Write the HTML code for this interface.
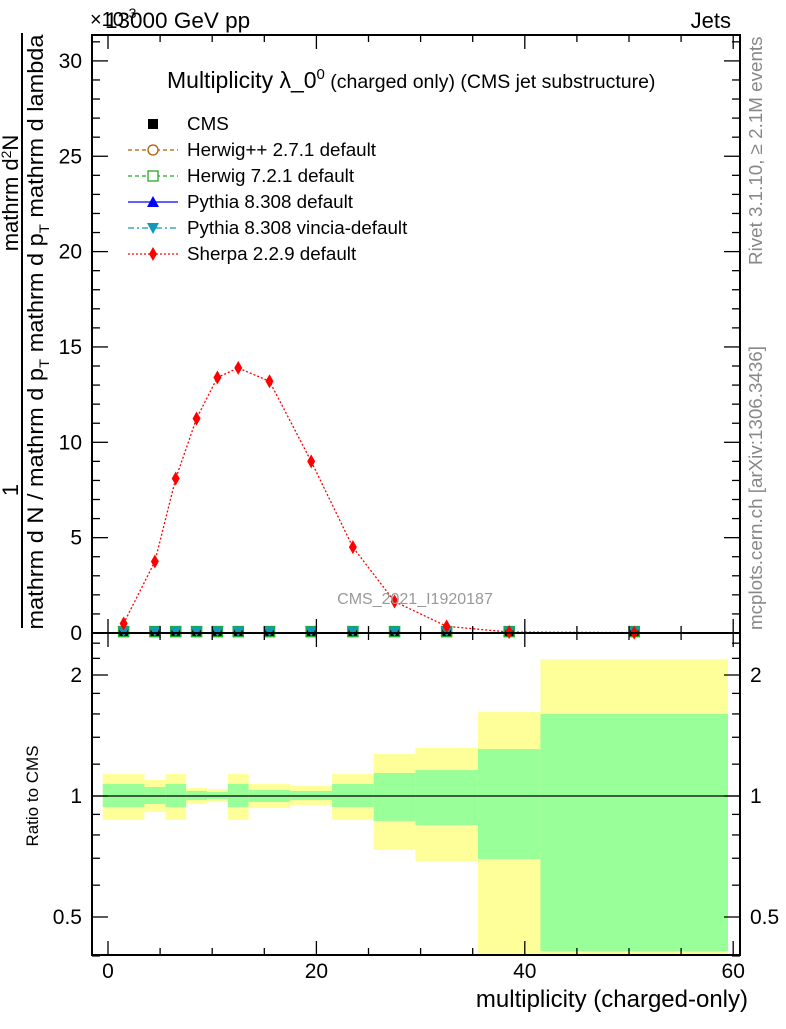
<!DOCTYPE html>
<html><head><meta charset="utf-8"><style>
body{margin:0;background:#fff}
svg{font-family:"Liberation Sans",sans-serif}
</style></head><body>
<svg id="c" width="786" height="1024" xmlns="http://www.w3.org/2000/svg">
<g id="bands"></g><g id="main"></g><g id="axes"></g>
<text x="105" y="28" font-size="22.5">13000 GeV pp</text>
<text x="90" y="26" font-size="20">×10<tspan font-size="14" dy="-8">-3</tspan></text>
<text x="731" y="28" font-size="22" text-anchor="end">Jets</text>
<text x="167" y="88" font-size="23">Multiplicity λ_0<tspan font-size="15" dy="-9">0</tspan><tspan font-size="19.5" dy="9"> (charged only) (CMS jet substructure)</tspan></text>
<text x="415" y="604" font-size="16" fill="#999" text-anchor="middle">CMS_2021_I1920187</text>
<text transform="translate(762,265) rotate(-90)" font-size="18.8" fill="#888">Rivet 3.1.10, ≥ 2.1M events</text>
<text transform="translate(762,630) rotate(-90)" font-size="18.8" fill="#888">mcplots.cern.ch [arXiv:1306.3436]</text>
<g>
<line x1="22" y1="33" x2="22" y2="628" stroke="#000" stroke-width="2"/>
<text transform="translate(18,490) rotate(-90)" font-size="22" text-anchor="middle">1</text>
<text transform="translate(18,193) rotate(-90)" font-size="22" text-anchor="middle">mathrm d<tspan font-size="14" dy="-7">2</tspan><tspan dy="7">N</tspan></text>
<text transform="translate(43,332) rotate(-90)" font-size="22" text-anchor="middle" textLength="595" lengthAdjust="spacingAndGlyphs">mathrm d N / mathrm d p<tspan font-size="14" dy="6">T</tspan><tspan dy="-6"> mathrm d p</tspan><tspan font-size="14" dy="6">T</tspan><tspan dy="-6"> mathrm d lambda</tspan></text>
</g>
<text transform="translate(38,796) rotate(-90)" font-size="17" text-anchor="middle">Ratio to CMS</text>
<text x="748" y="1007" font-size="24" text-anchor="end">multiplicity (charged-only)</text>
<g id="legend"></g>
</svg>
<script>
const edges=[-0.5,3.5,5.5,7.5,9.5,11.5,13.5,17.5,21.5,25.5,29.5,35.5,41.5,59.5];
const centers=[1.5,4.5,6.5,8.5,10.5,12.5,15.5,19.5,23.5,27.5,32.5,38.5,50.5];
const cmsVals=[0.02,0.02,0.02,0.02,0.02,0.02,0.02,0.02,0.02,0.02,0.02,0.02,0.02];
const sherpaVals=[0.5,3.75,8.1,11.25,13.4,13.9,13.2,9.0,4.5,1.65,0.35,0.05,0.02];
const yelHi=[1.134,1.096,1.134,1.047,1.041,1.134,1.071,1.059,1.134,1.272,1.317,1.618,2.19];
const grnHi=[1.071,1.053,1.071,1.029,1.023,1.071,1.035,1.029,1.071,1.141,1.160,1.309,1.60];
const grnLo=[0.939,0.955,0.939,0.977,0.983,0.939,0.966,0.977,0.939,0.867,0.847,0.697,0.411];
const yelLo=[0.872,0.912,0.872,0.955,0.966,0.872,0.933,0.950,0.872,0.734,0.689,0.30,0.39];
const xTicks=[0,20,40,60];
const yTicks=[0,5,10,15,20,25,30];
const rTicks=[0.5,1,2];

const NS="http://www.w3.org/2000/svg";
const X=v=>108+v*10.42;
const Y=v=>633-v*19.07;
const R=r=>796-Math.log2(r)*121;
const L=92,Rt=740,T=35,B=633,RB=955;
function mk(tag,attrs,parent){const e=document.createElementNS(NS,tag);for(const k in attrs)e.setAttribute(k,attrs[k]);(parent||document.getElementById('main')).appendChild(e);return e;}
const bands=document.getElementById('bands'),axes=document.getElementById('axes'),main=document.getElementById('main');
const clipY=v=>Math.min(RB,Math.max(B,v));
for(let i=0;i<centers.length;i++){
 const x1=X(edges[i]),x2=X(edges[i+1]);
 let e=mk('rect',{x:x1,y:clipY(R(yelHi[i])),width:x2-x1,height:clipY(R(yelLo[i]))-clipY(R(yelHi[i])),fill:'#ffff99'},bands);
 
 
 e=mk('rect',{x:x1,y:clipY(R(grnHi[i])),width:x2-x1,height:clipY(R(grnLo[i]))-clipY(R(grnHi[i])),fill:'#99ff99'},bands);
 
 
}
let rl=mk('line',{x1:L,x2:Rt,y1:R(1),y2:R(1),stroke:'#000','stroke-width':1.3},bands);


let sp=mk('polyline',{points:centers.map((c,i)=>X(c)+','+Y(sherpaVals[i])).join(' '),fill:'none',stroke:'#f00','stroke-width':1.3,'stroke-dasharray':'2,2'});


centers.forEach((c,i)=>{
 const x=X(c),y=Y(cmsVals[i])-1;
 let s=mk('rect',{x:x-5,y:y-5,width:10,height:10,fill:'#000'});
 
 
 let g=mk('rect',{x:x-5,y:y-5,width:10,height:10,fill:'none',stroke:'#2a2','stroke-width':1.5});
 
 
 let t=mk('polygon',{points:`${x-6},${y-5} ${x+6},${y-5} ${x},${y+5}`,fill:'#1199bb'});
 
 
 const sy=Y(sherpaVals[i]);
 let d=mk('polygon',{points:`${x},${sy-7} ${x+4},${sy} ${x},${sy+7} ${x-4},${sy}`,fill:'#f00'});
 
 
});
let f1=mk('rect',{x:L,y:T,width:Rt-L,height:B-T,fill:'none',stroke:'#000','stroke-width':2},axes);


let f2=mk('rect',{x:L,y:B,width:Rt-L,height:RB-B,fill:'none',stroke:'#000','stroke-width':2},axes);


const ln=(x1,y1,x2,y2)=>mk('line',{x1,y1,x2,y2,stroke:'#000','stroke-width':1.3},axes);
for(let v=0;v<=60;v+=5){const x=X(v),len=v%20==0?14:7;
 ln(x,B,x,B-len);ln(x,T,x,T+len);ln(x,B,x,B+len);ln(x,RB,x,RB-len);}
for(let v=0;v<=31;v++){const y=Y(v),len=v%5==0?16:8;ln(L,y,L+len,y);ln(Rt,y,Rt-len,y);}
[0.4,0.5,0.6,0.7,0.8,0.9,1,1.2,1.4,1.6,1.8,2,2.2,2.4].forEach(r=>{const y=R(r),len=[0.5,1,2].includes(r)?16:8;ln(L,y,L+len,y);ln(Rt,y,Rt-len,y);});
xTicks.forEach(v=>{let t=mk('text',{x:X(v),y:978,'font-size':21,'text-anchor':'middle'},axes);t.textContent=v;
 
 });
yTicks.forEach(v=>{let t=mk('text',{x:82,y:Y(v)+7,'font-size':21,'text-anchor':'end'},axes);t.textContent=v;
 
 });
rTicks.forEach(v=>{[[82,'end'],[750,'start']].forEach(([x,a])=>{let t=mk('text',{x,y:R(v)+7,'font-size':21,'text-anchor':a},axes);t.textContent=v;
 
 });});
const lg=document.getElementById('legend');
const labels=['CMS','Herwig++ 2.7.1 default','Herwig 7.2.1 default','Pythia 8.308 default','Pythia 8.308 vincia-default','Sherpa 2.2.9 default'];
const cols=['#000','#b05a00','#2a2','#00f','#1199bb','#f00'];
const dash=['','4,3','4,3','','6,3,2,3','2,2'];
labels.forEach((lab,i)=>{const y=124+i*26,x=153;
 const g=mk('g',{},lg);
 
 
 if(i>0)mk('line',{x1:128,x2:178,y1:y,y2:y,stroke:cols[i],'stroke-width':1.3,'stroke-dasharray':dash[i]},g);
 if(i==0)mk('rect',{x:x-5,y:y-5,width:10,height:10,fill:'#000'},g);
 if(i==1)mk('circle',{cx:x,cy:y,r:5,fill:'#fff',stroke:cols[i],'stroke-width':1.3},g);
 if(i==2)mk('rect',{x:x-5,y:y-5,width:10,height:10,fill:'#fff',stroke:cols[i],'stroke-width':1.3},g);
 if(i==3)mk('polygon',{points:`${x-6},${y+5} ${x+6},${y+5} ${x},${y-6}`,fill:cols[i]},g);
 if(i==4)mk('polygon',{points:`${x-6},${y-5} ${x+6},${y-5} ${x},${y+6}`,fill:cols[i]},g);
 if(i==5)mk('polygon',{points:`${x},${y-7} ${x+4},${y} ${x},${y+7} ${x-4},${y}`,fill:cols[i]},g);
 const t=mk('text',{x:187,y:y+6,'font-size':18.8},g);t.textContent=lab;});
</script>
</body></html>
